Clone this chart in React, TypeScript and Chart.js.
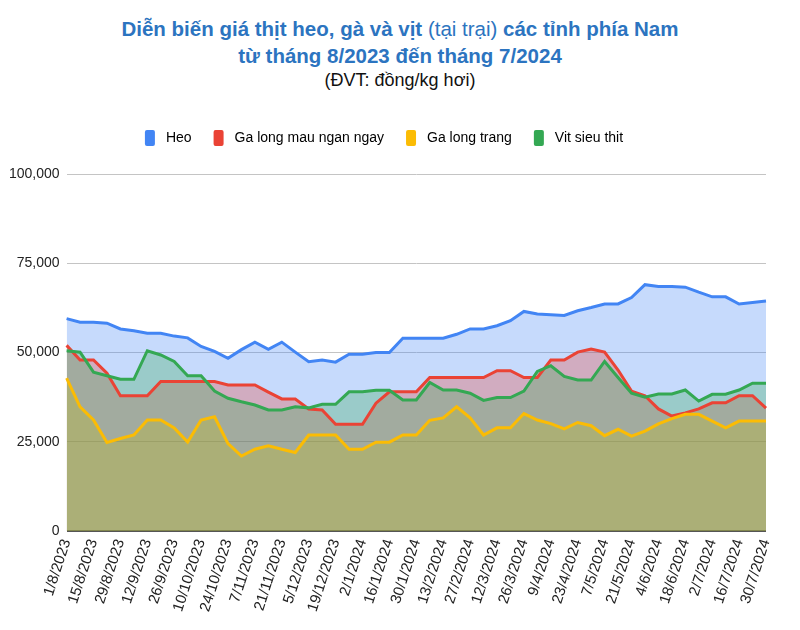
import React, { useEffect, useRef } from 'react';
import { Chart, registerables } from 'chart.js';

Chart.register(...registerables);

const categories = [
  '1/8/2023', '8/8/2023', '15/8/2023', '22/8/2023', '29/8/2023', '5/9/2023', '12/9/2023', '19/9/2023', '26/9/2023',
  '3/10/2023', '10/10/2023', '17/10/2023', '24/10/2023', '31/10/2023', '7/11/2023', '14/11/2023', '21/11/2023', '28/11/2023',
  '5/12/2023', '12/12/2023', '19/12/2023', '26/12/2023', '2/1/2024', '9/1/2024', '16/1/2024', '23/1/2024', '30/1/2024',
  '6/2/2024', '13/2/2024', '20/2/2024', '27/2/2024', '5/3/2024', '12/3/2024', '19/3/2024', '26/3/2024', '2/4/2024',
  '9/4/2024', '16/4/2024', '23/4/2024', '30/4/2024', '7/5/2024', '14/5/2024', '21/5/2024', '28/5/2024', '4/6/2024',
  '11/6/2024', '18/6/2024', '25/6/2024', '2/7/2024', '9/7/2024', '16/7/2024', '23/7/2024', '30/7/2024',
];

const heo = [
  59500, 58500, 58500, 58200, 56600, 56100, 55400, 55400, 54600, 54100,
  51700, 50300, 48400, 50800, 52900, 50900, 52900, 50100, 47400, 47900,
  47300, 49500, 49500, 50000, 50000, 54000, 54000, 54000, 54000, 55100,
  56600, 56600, 57500, 58900, 61500, 60800, 60600, 60400, 61700, 62600,
  63600, 63600, 65400, 69000, 68500, 68500, 68300, 66900, 65600, 65600,
  63600, 64000, 64400,
];

const gaLongMau = [
  52000, 47900, 47900, 44200, 37900, 37900, 37900, 41900, 41900, 41900,
  41900, 41900, 40900, 40900, 40900, 38900, 37000, 37000, 34200, 33900,
  29900, 29900, 29900, 35800, 39000, 39000, 39000, 43000, 43000, 43000,
  43000, 43000, 44900, 44900, 43000, 43000, 47900, 47900, 50100, 51000,
  50100, 45100, 39200, 37900, 34200, 32200, 33100, 34200, 35900, 35900,
  37900, 37900, 34400,
];

const gaLongTrang = [
  42800, 34800, 31100, 24800, 25900, 26900, 31100, 31100, 28900, 24900,
  31100, 32000, 24500, 21000, 22900, 23900, 22900, 22000, 26900, 26900,
  26900, 22900, 22900, 24900, 24900, 26900, 26900, 31000, 31700, 34800,
  31700, 26900, 28900, 28900, 32900, 31100, 30100, 28600, 30400, 29500,
  26700, 28500, 26600, 28000, 30000, 31500, 32700, 32700, 30800, 28900,
  30800, 30800, 30800,
];

const vitSieuThit = [
  50500, 50100, 44500, 43500, 42500, 42500, 50500, 49300, 47500, 43500,
  43500, 39200, 37200, 36200, 35300, 33900, 33900, 34800, 34500, 35500,
  35500, 39000, 39000, 39400, 39400, 36700, 36700, 41600, 39500, 39500,
  38600, 36600, 37400, 37400, 39200, 44700, 46300, 43300, 42300, 42300,
  47500, 43000, 38600, 37500, 38400, 38400, 39500, 36400, 38300, 38300,
  39500, 41400, 41400,
];

const seriesNames = ['Heo', 'Ga long mau ngan ngay', 'Ga long trang', 'Vit sieu thit'];
const yTicks = [0, 25000, 50000, 75000, 100000];

const FONT = '"Liberation Sans", Arial, sans-serif';
const COLORS = ['#4285F4', '#EA4335', '#FBBC04', '#34A853'];

function hexA(hex: string, a: number) {
  const n = parseInt(hex.slice(1), 16);
  return `rgba(${(n >> 16) & 255},${(n >> 8) & 255},${n & 255},${a})`;
}

export default function App() {
  const ref = useRef<HTMLCanvasElement | null>(null);

  useEffect(() => {
    if (!ref.current) return;
    const values = [heo, gaLongMau, gaLongTrang, vitSieuThit];
    const legendGap = {
      id: 'legendGap',
      beforeInit(chart: any) {
        const orig = chart.legend.fit;
        chart.legend.fit = function () {
          orig.bind(chart.legend)();
          this.height += 18;
        };
      },
    };
    const legendBoxes = {
      id: 'legendBoxes',
      afterDraw(chart: any) {
        const lg = chart.legend;
        if (!lg || !lg.legendHitBoxes) return;
        const ctx = chart.ctx;
        lg.legendHitBoxes.forEach((hb: any, i: number) => {
          const item = lg.legendItems[i];
          ctx.save();
          ctx.fillStyle = COLORS[item.datasetIndex];
          ctx.beginPath();
          (ctx as any).roundRect(hb.left, hb.top, 10, 16, 2);
          ctx.fill();
          ctx.restore();
        });
      },
    };
    const chart = new Chart(ref.current, {
      type: 'line',
      data: {
        labels: categories,
        datasets: values.map((v, i) => ({
          label: seriesNames[i],
          data: v,
          borderColor: COLORS[i],
          backgroundColor: hexA(COLORS[i], 0.3),
          borderWidth: 3,
          pointRadius: 0,
          pointHoverRadius: 0,
          tension: 0,
          fill: 'origin',
          order: 4 - i,
        })),
      },
      options: {
        animation: false,
        responsive: false,
        devicePixelRatio: 1,
        layout: { padding: { left: 2, right: 34, top: 13, bottom: 10 } },
        plugins: {
          filler: { drawTime: 'beforeDatasetsDraw' } as any,
          tooltip: { enabled: false },
          title: { display: false },
          legend: {
            display: true,
            position: 'top',
            align: 'center',
            labels: {
              boxWidth: 14,
              boxHeight: 16,
              padding: 22,
              color: '#222',
              font: { size: 14, family: FONT },
              sort: (a: any, b: any) => a.datasetIndex - b.datasetIndex,
              generateLabels: (c: any) =>
                c.data.datasets.map((d: any, i: number) => ({
                  text: d.label,
                  fillStyle: 'rgba(0,0,0,0)',
                  strokeStyle: 'rgba(0,0,0,0)',
                  lineWidth: 0,
                  hidden: false,
                  datasetIndex: i,
                })),
            },
          },
        },
        scales: {
          x: {
            type: 'category',
            offset: false,
            grid: { display: false, drawTicks: false },
            border: { display: false },
            ticks: {
              autoSkip: false,
              maxRotation: 72,
              minRotation: 72,
              padding: 6,
              color: '#222',
              font: { size: 15, family: FONT },
              callback: (_v: any, i: number) => (i % 2 === 0 ? categories[i] : ''),
            },
          },
          y: {
            min: 0,
            max: 100000,
            afterBuildTicks: (s: any) => {
              s.ticks = yTicks.map((v) => ({ value: v }));
            },
            grid: {
              drawTicks: false,
              color: (ctx: any) => (ctx.tick && ctx.tick.value === 0 ? '#555' : '#c4c4c4'),
              lineWidth: (ctx: any) => (ctx.tick && ctx.tick.value === 0 ? 2 : 1),
            },
            border: { display: false },
            ticks: {
              padding: 7,
              color: '#222',
              font: { size: 14, family: FONT },
              callback: (v: any) => Number(v).toLocaleString('en-US'),
            },
          },
        },
      },
      plugins: [legendGap, legendBoxes],
    } as any);
    return () => chart.destroy();
  }, []);

  return (
    <div style={{ position: 'fixed', left: 0, top: 0, width: 800, height: 630, background: '#fff', overflow: 'hidden' }}>
      <div
        style={{
          position: 'absolute', top: 15, left: 0, width: 800, textAlign: 'center',
          color: '#2c74c0', fontWeight: 'bold', fontSize: 20.5, lineHeight: '27px',
          fontFamily: FONT,
        }}
      >
        <div>Diễn biến giá thịt heo, gà và vịt <span style={{ fontWeight: 'normal' }}>(tại trại)</span> các tỉnh phía Nam</div>
        <div>từ tháng 8/2023 đến tháng 7/2024</div>
      </div>
      <div
        style={{
          position: 'absolute', top: 69, left: 0, width: 800, textAlign: 'center',
          color: '#111', fontSize: 18, lineHeight: '22px',
          fontFamily: FONT,
        }}
      >
        (ĐVT: đồng/kg hơi)
      </div>
      <canvas ref={ref} width={800} height={535} style={{ position: 'absolute', left: 0, top: 95, width: 800, height: 535 }} />
    </div>
  );
}
